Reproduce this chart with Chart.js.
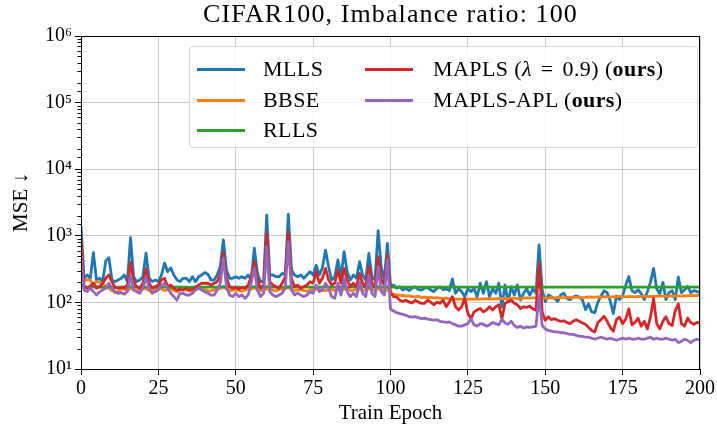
<!DOCTYPE html>
<html>
<head>
<meta charset="utf-8">
<script src="https://cdn.jsdelivr.net/npm/chart.js@4.4.1/dist/chart.umd.min.js"></script>
<style>
	body { margin: 0; background: #fff; }
	#wrap { position: relative; width: 717px; height: 430px; font-family: "Liberation Serif", serif; color: #000; }
	#chartTitle { position: absolute; left: 81px; width: 619px; top: 0; text-align: center; font-size: 26px; line-height: 28px; letter-spacing: 1.1px; }
	#legendBox { position: absolute; left: 189px; top: 46px; width: 509px; height: 102px; box-sizing: border-box;
		border: 1px solid #d6d6d6; border-radius: 4px; background: rgba(255,255,255,0.8); }
	.legItem { position: absolute; height: 30px; line-height: 30px; font-size: 22px; white-space: nowrap; }
	.legLine { position: absolute; left: 0; top: 14px; width: 48px; height: 3px; }
	.legText { position: absolute; left: 66px; top: 0; letter-spacing: 0.4px; }
	.mathSp { word-spacing: 3px; }
</style>
</head>
<body>
<div id="wrap">
	<canvas id="mseChart" width="717" height="430"></canvas>
	<div id="chartTitle">CIFAR100, Imbalance ratio: 100</div>
	<div id="legendBox"></div>
</div>
<script>
// MSE per train epoch (0..200)
const mllsMSE = [
	1370, 230, 258, 230, 560, 217, 230, 205, 420, 470,
	217, 205, 217, 230, 258, 205, 940, 243, 205, 217,
	243, 550, 230, 205, 217, 205, 258, 390, 289, 330,
	258, 217, 205, 230, 230, 205, 243, 205, 243, 258,
	280, 265, 217, 217, 258, 343, 870, 306, 230, 230,
	243, 230, 243, 230, 258, 217, 650, 273, 205, 205,
	2040, 258, 258, 243, 243, 273, 258, 2120, 306, 258,
	243, 258, 230, 258, 289, 258, 360, 258, 330, 610,
	343, 217, 243, 433, 243, 578, 289, 217, 258, 230,
	408, 258, 217, 546, 243, 217, 1195, 343, 217, 770,
	180, 182, 163, 172, 153, 163, 150, 163, 172, 156,
	153, 163, 168, 153, 145, 163, 172, 155, 160, 150,
	225, 137, 160, 145, 122, 160, 145, 160, 122, 194,
	137, 205, 122, 160, 137, 194, 85, 183, 102, 172,
	129, 183, 108, 137, 160, 129, 160, 137, 730, 153,
	103, 129, 122, 115, 103, 129, 137, 115, 110, 120,
	125, 120, 110, 78, 95, 72, 70, 100, 125, 150,
	140, 105, 68, 125, 110, 125, 180, 245, 150, 140,
	155, 135, 110, 145, 200, 325, 160, 135, 200, 110,
	140, 150, 110, 240, 140, 155, 175, 140, 150, 145,
	140
];
const bbseMSE = [
	200, 210, 220, 215, 182, 205, 200, 190, 175, 165,
	150, 140, 145, 155, 160, 150, 165, 155, 150, 158,
	165, 160, 150, 145, 155, 165, 160, 150, 155, 160,
	150, 145, 152, 160, 155, 148, 152, 160, 165, 160,
	155, 150, 148, 155, 160, 162, 170, 158, 150, 152,
	155, 150, 148, 153, 160, 158, 165, 155, 150, 152,
	160, 158, 152, 150, 155, 158, 162, 168, 155, 150,
	153, 155, 150, 148, 152, 158, 160, 155, 152, 150,
	155, 158, 150, 155, 152, 158, 160, 150, 152, 155,
	158, 150, 152, 160, 155, 150, 160, 155, 150, 155,
	140, 133, 130, 128, 127, 124, 125, 122, 121, 123,
	119, 120, 118, 119, 117, 118, 116, 115, 116, 113,
	112, 113, 111, 112, 113, 111, 112, 113, 111, 112,
	113, 114, 112, 113, 114, 113, 115, 114, 113, 115,
	116, 114, 115, 116, 117, 116, 117, 118, 122, 117,
	116, 117, 118, 117, 119, 118, 117, 119, 120, 118,
	119, 120, 118, 119, 121, 120, 119, 121, 120, 122,
	121, 120, 122, 121, 123, 122, 121, 123, 122, 121,
	123, 122, 124, 123, 122, 124, 123, 125, 124, 123,
	125, 124, 126, 125, 124, 126, 125, 127, 126, 127,
	128
];
const rllsMSE = [
	180, 172, 170, 168, 170, 172, 170, 168, 170, 171,
	170, 168, 169, 170, 171, 170, 172, 170, 169, 170,
	171, 170, 168, 169, 170, 172, 171, 170, 169, 168,
	169, 170, 171, 170, 169, 168, 170, 171, 170, 169,
	170, 171, 170, 169, 170, 171, 173, 170, 169, 170,
	170, 169, 168, 169, 170, 171, 172, 170, 169, 170,
	173, 170, 169, 170, 169, 170, 171, 173, 170, 169,
	170, 169, 170, 171, 170, 169, 171, 170, 170, 171,
	170, 169, 170, 171, 170, 171, 170, 169, 170, 169,
	171, 170, 169, 171, 170, 169, 172, 170, 169, 171,
	170, 170, 170, 170, 170, 170, 170, 170, 170, 170,
	170, 170, 170, 170, 170, 170, 170, 170, 170, 170,
	170, 170, 170, 170, 170, 170, 170, 170, 170, 170,
	170, 170, 170, 170, 170, 170, 170, 170, 170, 170,
	170, 170, 170, 170, 170, 170, 170, 170, 170, 170,
	170, 170, 170, 170, 170, 170, 170, 170, 170, 170,
	170, 170, 170, 170, 170, 170, 170, 170, 170, 170,
	170, 170, 170, 170, 170, 170, 170, 170, 170, 170,
	170, 170, 170, 170, 170, 170, 170, 170, 170, 170,
	170, 170, 170, 170, 170, 170, 170, 170, 170, 170,
	170
];
const maplsMSE = [
	900, 172, 163, 177, 194, 163, 172, 194, 230, 258,
	205, 168, 163, 168, 163, 182, 400, 205, 172, 163,
	194, 320, 194, 163, 172, 182, 217, 230, 172, 182,
	163, 153, 158, 153, 163, 153, 158, 163, 182, 194,
	194, 194, 182, 194, 205, 258, 560, 230, 172, 163,
	168, 158, 168, 163, 182, 243, 408, 217, 163, 182,
	1080, 205, 182, 172, 163, 194, 243, 1130, 230, 172,
	182, 163, 172, 182, 205, 194, 290, 194, 230, 324,
	217, 182, 194, 306, 194, 324, 217, 172, 194, 172,
	273, 194, 172, 350, 194, 172, 486, 217, 182, 515,
	140, 122, 120, 108, 103, 108, 101, 98, 108, 101,
	97, 97, 108, 101, 92, 101, 97, 108, 86, 101,
	122, 86, 77, 86, 115, 68, 57, 72, 77, 81,
	72, 77, 86, 77, 86, 92, 57, 97, 102, 108,
	97, 92, 81, 86, 84, 88, 80, 76, 390, 72,
	54, 61, 55, 57, 54, 52, 53, 50, 48, 52,
	55, 52, 49, 47, 42, 38, 36, 50, 55, 62,
	52, 42, 37, 55, 60, 48, 56, 80, 46, 50,
	58, 44, 52, 40, 60, 115, 48, 40, 52, 61,
	48, 45, 75, 95, 48, 44, 58, 50, 47, 50,
	49
];
const maplsAplMSE = [
	520, 153, 145, 163, 145, 129, 145, 153, 163, 194,
	163, 145, 137, 140, 133, 145, 258, 153, 145, 137,
	163, 243, 163, 137, 145, 153, 182, 194, 163, 137,
	122, 108, 137, 137, 129, 129, 137, 153, 163, 153,
	145, 137, 129, 129, 153, 194, 460, 172, 129, 122,
	137, 122, 129, 115, 129, 194, 330, 153, 122, 137,
	680, 145, 129, 122, 129, 137, 163, 800, 153, 129,
	137, 129, 122, 129, 145, 137, 182, 145, 153, 194,
	163, 122, 115, 194, 129, 230, 145, 122, 137, 122,
	205, 137, 122, 258, 137, 122, 343, 145, 129, 433,
	80, 74, 70, 68, 66, 64, 61, 60, 61, 59,
	57, 58, 56, 55, 54, 55, 52, 51, 50, 51,
	48, 46, 44, 44, 46, 48, 57, 46, 44, 48,
	47, 44, 46, 50, 48, 46, 56, 49, 47, 52,
	45, 42, 44, 41, 43, 42, 43, 44, 128, 45,
	40, 38, 37, 36, 36, 35, 35, 34, 33, 33,
	32, 31, 31, 30, 30, 29, 28, 29, 30, 29,
	28, 29, 28, 27, 28, 29, 28, 29, 28, 28,
	29, 28, 28, 29, 30, 28, 29, 28, 28, 29,
	28, 27, 28, 25, 26, 28, 27, 25, 27, 28,
	27
];
const xTicks = [0, 25, 50, 75, 100, 125, 150, 175, 200];
const yTickExponents = [1, 2, 3, 4, 5, 6];

const seriesList = [
	{ label: "MLLS", html: "MLLS", values: mllsMSE, color: "#1f77b4", col: 0, row: 0 },
	{ label: "BBSE", html: "BBSE", values: bbseMSE, color: "#ff7f0e", col: 0, row: 1 },
	{ label: "RLLS", html: "RLLS", values: rllsMSE, color: "#2ca02c", col: 0, row: 2 },
	{ label: "MAPLS (λ = 0.9) (ours)", html: "MAPLS (<span class=\"mathSp\"><i>λ</i> = 0.9</span>) (<b>ours</b>)", values: maplsMSE, color: "#d62728", col: 1, row: 0 },
	{ label: "MAPLS-APL (ours)", html: "MAPLS-APL (<b>ours</b>)", values: maplsAplMSE, color: "#9467bd", col: 1, row: 1 }
];

const fontFamily = "'Liberation Serif', serif";
const gridGray = "rgba(176,176,176,0.7)";
const superDigits = { "0": "⁰", "1": "¹", "2": "²", "3": "³", "4": "⁴", "5": "⁵", "6": "⁶", "7": "⁷", "8": "⁸", "9": "⁹" };

function isPow10(v) {
	let e = Math.log10(v);
	return Math.abs(e - Math.round(e)) < 1e-9;
}

//build the html legend (two columns, inside the plot)
let legendBox = document.getElementById("legendBox");
seriesList.forEach(s => {
	let item = document.createElement("div");
	item.classList.add("legItem");
	item.style.left = (s.col === 0 ? 7 : 175) + "px";
	item.style.top = (7 + s.row * 30.5) + "px";
	let line = document.createElement("span");
	line.classList.add("legLine");
	line.style.background = s.color;
	item.appendChild(line);
	let txt = document.createElement("span");
	txt.classList.add("legText");
	txt.style.left = (s.col === 0 ? 66 : 68) + "px";
	txt.innerHTML = s.html;
	item.appendChild(txt);
	legendBox.appendChild(item);
});

//datasets, later series drawn on top
let datasets = seriesList.map((s, i) => ({
	label: s.label,
	data: s.values.map((v, epoch) => ({ x: epoch, y: v })),
	borderColor: s.color,
	backgroundColor: s.color,
	borderWidth: 2.8,
	pointRadius: 0,
	tension: 0,
	borderJoinStyle: "round",
	order: seriesList.length - i
}));

//black box around plot + short minor ticks on the log axis
const framePlugin = {
	id: "frame",
	afterDatasetsDraw(chart) {
		let a = chart.chartArea;
		let c = chart.ctx;
		c.save();
		c.strokeStyle = "#000";
		c.lineWidth = 1;
		c.strokeRect(a.left + 0.5, a.top + 0.5, a.right - a.left - 1, a.bottom - a.top);
		let yScale = chart.scales.y;
		c.beginPath();
		yScale.ticks.forEach(t => {
			if (isPow10(t.value)) return;
			let py = Math.round(yScale.getPixelForValue(t.value)) + 0.5;
			c.moveTo(a.left - 3.5, py);
			c.lineTo(a.left, py);
		});
		c.stroke();
		c.restore();
	}
};

let ctxL = document.getElementById("mseChart").getContext("2d");
let mseChart = new Chart(ctxL, {
	type: "line",
	data: { datasets: datasets },
	options: {
		responsive: false,
		animation: false,
		layout: { padding: { top: 36, right: 17, left: 0, bottom: 0 } },
		plugins: {
			legend: { display: false },
			tooltip: { enabled: false },
			title: { display: false }
		},
		scales: {
			x: {
				type: "linear",
				min: 0,
				max: 200,
				afterBuildTicks: s => { s.ticks = xTicks.map(v => ({ value: v })); },
				ticks: { font: { family: fontFamily, size: 20 }, color: "#000", padding: 2, maxRotation: 0 },
				grid: { color: gridGray, lineWidth: 1, tickLength: 6, tickColor: "#000" },
				border: { color: "#000", width: 1 },
				title: { display: true, text: "Train Epoch", color: "#000", font: { family: fontFamily, size: 21 }, padding: { top: 4, bottom: 4 } },
				afterFit: s => { s.height = 61; }
			},
			y: {
				type: "logarithmic",
				min: Math.pow(10, yTickExponents[0]),
				max: Math.pow(10, yTickExponents[yTickExponents.length - 1]),
				ticks: {
					autoSkip: false,
					color: "#000",
					padding: 3,
					font: { family: fontFamily, size: 20 },
					callback: v => {
						if (!isPow10(v)) return "";
						let e = String(Math.round(Math.log10(v)));
						return "10" + e.split("").map(d => superDigits[d]).join("");
					}
				},
				grid: {
					lineWidth: 1,
					tickLength: 6,
					color: c => (c.tick && isPow10(c.tick.value)) ? gridGray : "rgba(0,0,0,0)",
					tickColor: c => (c.tick && isPow10(c.tick.value)) ? "#000" : "rgba(0,0,0,0)"
				},
				border: { color: "#000", width: 1 },
				title: { display: true, text: "MSE ↓", color: "#000", font: { family: fontFamily, size: 21 }, padding: { top: 9, bottom: 9 } },
				afterFit: s => { s.width = 81; }
			}
		}
	},
	plugins: [framePlugin]
});
</script>
</body>
</html>
